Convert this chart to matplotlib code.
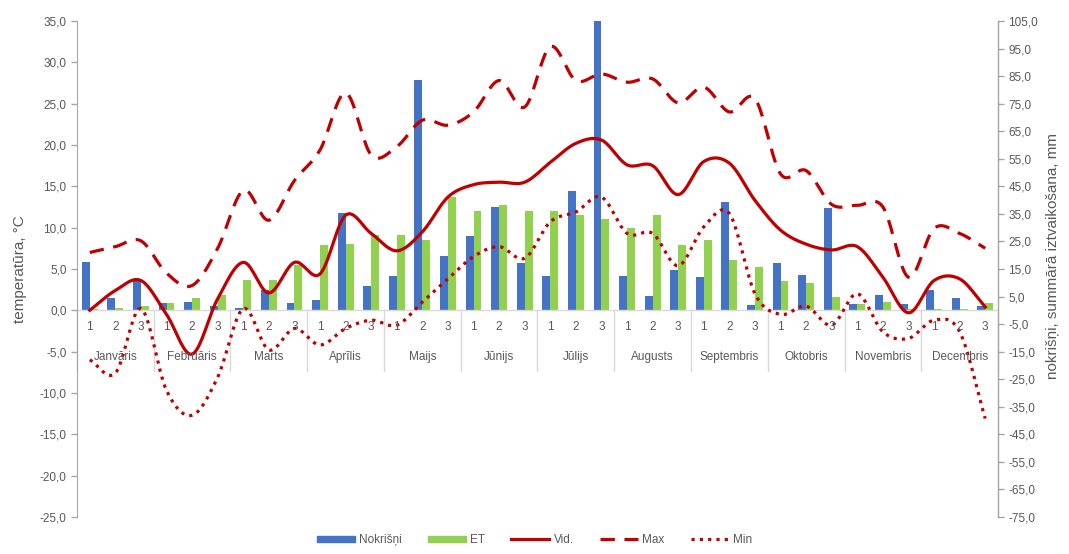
# ====== imports ======
import numpy as np
import matplotlib
matplotlib.use("Agg")
import matplotlib.pyplot as plt
from matplotlib.patches import Patch
from matplotlib.lines import Line2D
from matplotlib.ticker import FuncFormatter

plt.rcParams['font.family'] = ['Liberation Sans', 'DejaVu Sans']

# ====== data ======
months = ["Janvāris", "Februāris", "Marts", "Aprīlis", "Maijs", "Jūnijs",
          "Jūlijs", "Augusts", "Septembris", "Oktobris", "Novembris", "Decembris"]
dekads = ["1", "2", "3"]

# mm (right axis)
nokrisni = [17.5, 4.5, 10.9, 2.5, 3.0, 1.5, 1.0, 7.3, 2.5, 3.6, 35.3, 8.8,
            12.4, 83.6, 19.8, 26.9, 37.6, 17.3, 12.4, 43.4, 105.0, 12.6, 5.1, 14.8,
            12.1, 39.4, 1.8, 17.0, 12.7, 37.3, 2.4, 5.5, 2.4, 7.5, 4.6, 1.5]
et = [0.5, 1.0, 1.5, 2.5, 4.5, 5.5, 10.9, 10.9, 16.4, 23.6, 24.0, 27.3,
      27.3, 25.5, 41.2, 36.1, 38.2, 36.1, 36.1, 34.5, 33.3, 29.7, 34.5, 23.6,
      25.5, 18.2, 15.8, 10.5, 9.9, 4.8, 2.4, 3.0, 0.5, 0.3, 0.3, 2.5]

# °C (left axis)
t_vid = [0.0, 2.4, 3.6, -0.5, -5.3, 1.4, 5.8, 2.1, 5.8, 4.4, 11.5, 9.3,
         7.2, 9.5, 13.7, 15.2, 15.5, 15.5, 17.9, 20.2, 20.6, 17.6, 17.5, 14.0,
         18.0, 17.8, 13.3, 9.7, 8.0, 7.3, 7.7, 4.0, -0.3, 3.6, 3.8, 0.4]
t_max = [7.0, 7.7, 8.4, 4.5, 3.0, 7.5, 14.5, 10.9, 15.7, 19.4, 26.3, 18.8,
         19.8, 23.0, 22.4, 24.0, 27.8, 24.6, 31.9, 27.8, 28.6, 27.6, 28.0, 25.1,
         27.0, 24.0, 25.6, 16.5, 16.9, 12.8, 12.7, 12.5, 4.0, 9.9, 9.3, 7.5]
t_min = [-6.0, -7.6, 0.2, -9.7, -12.7, -8.1, 0.2, -4.8, -2.2, -4.2, -2.2, -1.2,
         -1.8, 1.0, 3.8, 6.5, 7.7, 6.3, 10.7, 11.9, 13.7, 9.3, 9.3, 5.4,
         10.1, 11.7, 2.0, -0.5, 0.5, -1.8, 2.0, -2.6, -3.4, -1.2, -2.6, -13.1]

# ====== helpers ======
def smooth(x, y, n=20):
    # Catmull-Rom curve through the points, like Excel's smoothed line
    x = np.asarray(x, float); y = np.asarray(y, float)
    px = np.concatenate([[2 * x[0] - x[1]], x, [2 * x[-1] - x[-2]]])
    py = np.concatenate([[2 * y[0] - y[1]], y, [2 * y[-1] - y[-2]]])
    t = np.linspace(0, 1, n, endpoint=False)
    xs, ys = [], []
    for i in range(1, len(px) - 2):
        for p, out in ((px, xs), (py, ys)):
            p0, p1, p2, p3 = p[i - 1:i + 3]
            out.extend(0.5 * (2 * p1 + (-p0 + p2) * t
                              + (2 * p0 - 5 * p1 + 4 * p2 - p3) * t ** 2
                              + (-p0 + 3 * p1 - 3 * p2 + p3) * t ** 3))
    xs.append(x[-1]); ys.append(y[-1])
    return np.array(xs), np.array(ys)

comma = FuncFormatter(lambda v, _: f"{v:.1f}".replace('.', ','))

# ====== style ======
blue = '#4472C4'
green = '#92D050'
red = '#C00000'
txt = '#595959'
axc = '#A6A6A6'
dash = (0, (4.5, 3))
dot = (0, (1, 1.6))

# ====== figure ======
fig = plt.figure(figsize=(10.69, 5.54), dpi=100)
ax = fig.add_axes([0.072, 0.067, 0.8616, 0.895])   # bars, right scale
axT = ax.twinx()                                    # temperatures, left scale

x = np.arange(len(nokrisni))
w = 0.31
ax.bar(x - w / 2, nokrisni, w, color=blue, zorder=2)
ax.bar(x + w / 2, et, w, color=green, zorder=2)
ax.set_ylim(-75, 105)
ax.set_yticks(np.arange(-75, 106, 10))
ax.yaxis.tick_right()
ax.yaxis.set_label_position('right')
ax.set_ylabel('nokrišņi, summārā iztvaikošana, mm', color=txt, fontsize=11)
ax.yaxis.set_label_coords(1.052, 0.526)

for ys, ls in ((t_vid, '-'), (t_max, dash), (t_min, dot)):
    sx, sy = smooth(x, ys)
    axT.plot(sx, sy, color=red, lw=2.3, linestyle=ls, zorder=3)

axT.set_ylim(-25, 35)
axT.set_yticks(np.arange(-25, 36, 5))
axT.yaxis.tick_left()
axT.yaxis.set_label_position('left')
axT.set_ylabel('temperatūra, °C', color=txt, fontsize=11)
axT.yaxis.set_label_coords(-0.054, 0.5)

ax.set_xlim(-0.5, len(x) - 0.5)
ax.set_xticks([])
for a in (ax, axT):
    a.yaxis.set_major_formatter(comma)
    a.tick_params(axis='y', colors=axc, labelcolor=txt, labelsize=8.5,
                  length=4, width=1)
    for s in ('top', 'bottom'):
        a.spines[s].set_visible(False)
ax.spines['left'].set_visible(False)
axT.spines['right'].set_color(axc)
axT.spines['left'].set_color(axc)

# category axis at 0 with two-level labels
axT.axhline(0, color='#D9D9D9', lw=1, zorder=1)
for i in x:
    axT.text(i, -2.0, dekads[i % 3], ha='center', va='center', color=txt, fontsize=8.5)
for m, name in enumerate(months):
    axT.text(3 * m + 1, -5.7, name, ha='center', va='center', color=txt, fontsize=8.5)
for b in range(0, 37, 3):
    axT.plot([b - 0.5, b - 0.5], [0, -7.4], color='#D9D9D9', lw=1, zorder=1, clip_on=False)

# ====== legend ======
handles = [Patch(color=blue), Patch(color=green),
           Line2D([], [], color=red, lw=2.3),
           Line2D([], [], color=red, lw=2.3, linestyle=dash),
           Line2D([], [], color=red, lw=2.3, linestyle=dot)]
labels = ['Nokrišņi', 'ET', 'Vid.', 'Max', 'Min']
leg = fig.legend(handles, labels, loc='lower center', bbox_to_anchor=(0.5, -0.005),
                 ncol=5, frameon=False, fontsize=8.5, handlelength=3.2,
                 handleheight=0.5, columnspacing=2.2, handletextpad=0.4)
for t in leg.get_texts():
    t.set_color(txt)

fig.savefig('out.png', dpi=100)
